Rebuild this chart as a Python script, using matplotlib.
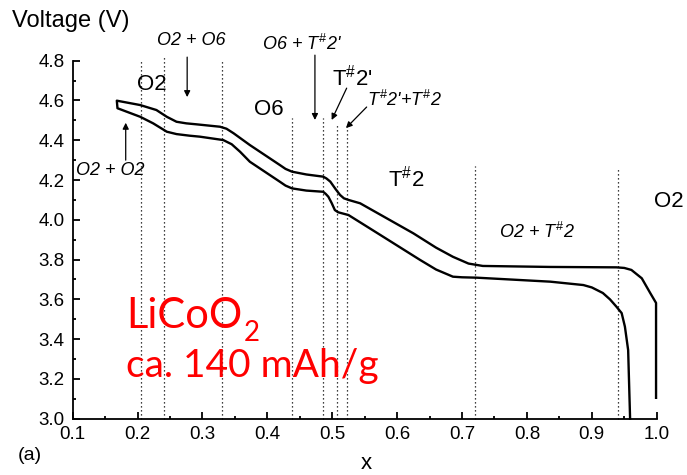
import matplotlib
matplotlib.use("Agg")
import matplotlib.pyplot as plt
from matplotlib.ticker import MultipleLocator

plt.rcParams["font.family"] = ["Liberation Sans", "DejaVu Sans"]
plt.rcParams["mathtext.fontset"] = "custom"
plt.rcParams["mathtext.rm"] = "Liberation Sans"
plt.rcParams["mathtext.it"] = "Liberation Sans:italic"
plt.rcParams["mathtext.bf"] = "Liberation Sans:bold"

# Charge branch (upper curve), x vs voltage
charge_x = [0.168, 0.204, 0.229, 0.245, 0.260, 0.275, 0.291, 0.327, 0.337,
            0.348, 0.373, 0.419, 0.428, 0.438, 0.460, 0.486, 0.491, 0.497,
            0.505, 0.512, 0.518, 0.525, 0.543, 0.625, 0.660, 0.686, 0.710,
            0.732, 0.836, 0.938, 0.950, 0.961, 0.977, 0.990, 0.999, 0.999]
charge_v = [4.599, 4.577, 4.552, 4.518, 4.493, 4.485, 4.480, 4.468, 4.458,
            4.435, 4.376, 4.276, 4.256, 4.242, 4.228, 4.217, 4.208, 4.192,
            4.155, 4.125, 4.108, 4.100, 4.083, 3.932, 3.860, 3.814, 3.780,
            3.768, 3.763, 3.761, 3.758, 3.748, 3.706, 3.632, 3.582, 3.105]

# Discharge branch (lower curve)
discharge_x = [0.169, 0.204, 0.224, 0.245, 0.260, 0.280, 0.296, 0.332, 0.345,
               0.358, 0.373, 0.419, 0.428, 0.438, 0.460, 0.486, 0.490, 0.494,
               0.499, 0.504, 0.509, 0.525, 0.574, 0.635, 0.660, 0.686, 0.700,
               0.723, 0.836, 0.887, 0.900, 0.917, 0.928, 0.938, 0.946, 0.951,
               0.956, 0.959]
discharge_v = [4.561, 4.518, 4.485, 4.443, 4.431, 4.423, 4.418, 4.401, 4.380,
               4.342, 4.292, 4.192, 4.172, 4.158, 4.147, 4.141, 4.130, 4.116,
               4.085, 4.049, 4.038, 4.024, 3.924, 3.799, 3.750, 3.714, 3.711,
               3.709, 3.689, 3.672, 3.660, 3.632, 3.600, 3.563, 3.531, 3.463,
               3.345, 3.000]

# Phase boundaries (dotted) and the height each one reaches
boundary_x = [0.205, 0.240, 0.330, 0.438, 0.486, 0.507, 0.523, 0.720, 0.940]
boundary_top = [4.81, 4.825, 4.80, 4.51, 4.51, 4.475, 4.46, 4.27, 4.26]

x_ticks = [0.1, 0.2, 0.3, 0.4, 0.5, 0.6, 0.7, 0.8, 0.9, 1.0]
y_ticks = [3.0, 3.2, 3.4, 3.6, 3.8, 4.0, 4.2, 4.4, 4.6, 4.8]

fig = plt.figure(figsize=(6.87, 4.75), dpi=100)
ax = fig.add_axes([72.7 / 687, 56.3 / 475, (656.7 - 72.7) / 687, (418.7 - 60.7) / 475])

# one continuous loop: discharge from right to left, then charge left to right
loop_x = discharge_x[::-1] + charge_x
loop_v = discharge_v[::-1] + charge_v
ax.plot(loop_x, loop_v, color="black", lw=1.7, solid_joinstyle="round",
        clip_on=False, zorder=3)

ax.vlines(boundary_x, 3.0, boundary_top, colors="black", lw=0.9,
          linestyles=[(0, (1, 2.2))], clip_on=False, zorder=2)

ax.set_xlim(0.1, 1.0)
ax.set_ylim(3.0, 4.8)
ax.set_xticks(x_ticks)
ax.set_yticks(y_ticks)
ax.set_xticklabels([f"{t:.1f}" for t in x_ticks])
ax.set_yticklabels([f"{t:.1f}" for t in y_ticks])
ax.xaxis.set_minor_locator(MultipleLocator(0.05))
ax.yaxis.set_minor_locator(MultipleLocator(0.1))
ax.tick_params(which="both", direction="in", width=1.3, labelsize=13.5)
ax.tick_params(which="major", length=5)
ax.tick_params(which="minor", length=2.5)
ax.tick_params(axis="x", pad=5)
ax.tick_params(axis="y", pad=6)
for side in ("top", "right"):
    ax.spines[side].set_visible(False)
for side in ("left", "bottom"):
    ax.spines[side].set_linewidth(1.3)

# phase labels
big = dict(fontsize=16, ha="center", va="center", clip_on=False)
ital = dict(fontsize=13, style="italic", ha="center", va="center", clip_on=False)
ax.text(0.222, 4.678, "O2", **big)
ax.text(0.4025, 4.553, "O6", **big)
ax.text(0.5304, 4.713, "T$^{\\#}$2'", **big)
ax.text(0.6136, 4.205, "T$^{\\#}$2", **big)
ax.text(1.018, 4.093, "O2", **big)

ax.text(0.2823, 4.904, "O2 + O6", **ital)
ax.text(0.4533, 4.884, "O6 + $T^{\\#}$2'", **ital)
ax.text(0.612, 4.602, "$T^{\\#}$2'+$T^{\\#}$2", **ital)
ax.text(0.1575, 4.250, "O2 + O2", **ital)
ax.text(0.8155, 3.941, "O2 + $T^{\\#}$2", **ital)

arrow = dict(arrowstyle="-|>", color="black", lw=0.9, mutation_scale=9,
             shrinkA=0, shrinkB=0)
ax.annotate("", xy=(0.2764, 4.617), xytext=(0.2764, 4.818), arrowprops=arrow,
            annotation_clip=False)
ax.annotate("", xy=(0.4733, 4.502), xytext=(0.4733, 4.828), arrowprops=arrow,
            annotation_clip=False)
ax.annotate("", xy=(0.4991, 4.502), xytext=(0.5222, 4.662), arrowprops=arrow,
            annotation_clip=False)
ax.annotate("", xy=(0.5211, 4.461), xytext=(0.553, 4.567), arrowprops=arrow,
            annotation_clip=False)
ax.annotate("", xy=(0.1817, 4.488), xytext=(0.1817, 4.30), arrowprops=arrow,
            annotation_clip=False)

# material label
red = dict(color="#ff0000", family=["Lato", "DejaVu Sans"], ha="left",
           va="baseline")
formula = ax.text(0.182, 3.456, "LiCoO", fontsize=30, **red)
ax.annotate("2", xy=(1.0, 0.0), xycoords=formula, xytext=(1, -4),
            textcoords="offset points", fontsize=20, **red)
ax.text(0.182, 3.211, "ca. 140 mAh/g", fontsize=28, **red)

fig.text(12 / 687, 1 - 21 / 475, "Voltage (V)", fontsize=17, ha="left",
         va="center")
fig.text(30 / 687, 1 - 456 / 475, "(a)", fontsize=14, ha="center", va="center")
fig.text(366 / 687, 1 - 469 / 475, "x", fontsize=16, ha="center",
         va="baseline")

fig.savefig("out.png", dpi=100)
